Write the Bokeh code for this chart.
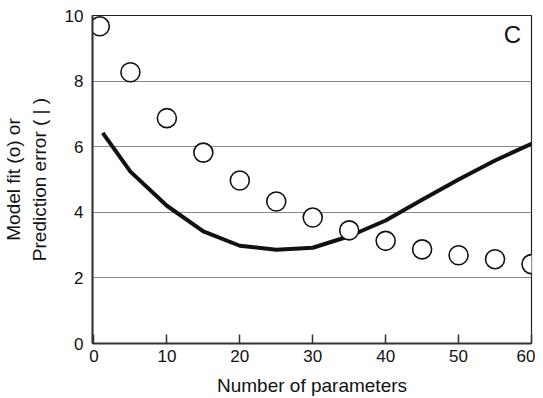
from bokeh.plotting import figure
from bokeh.models import Range1d, Label, FixedTicker
from bokeh.embed import file_html
from bokeh.resources import INLINE

# data
fit_x = [0.8, 5, 10, 15, 20, 25, 30, 35, 40, 45, 50, 55, 60]
fit_y = [9.67, 8.27, 6.87, 5.82, 4.97, 4.33, 3.84, 3.45, 3.13, 2.87, 2.69, 2.57, 2.42]
err_x = [1.2, 5, 10, 15, 20, 25, 30, 35, 40, 45, 50, 55, 60]
err_y = [6.42, 5.24, 4.2, 3.42, 2.98, 2.86, 2.92, 3.27, 3.75, 4.38, 5.0, 5.58, 6.09]
x_ticks = [0, 10, 20, 30, 40, 50, 60]
y_ticks = [0, 2, 4, 6, 8, 10]

FONT = "Liberation Sans"

p = figure(width=535, height=398, output_backend="svg", toolbar_location=None,
           x_range=Range1d(-0.2, 60), y_range=Range1d(0, 10),
           min_border_left=92, min_border_right=4, min_border_top=15, min_border_bottom=53)

p.line(err_x, err_y, line_color="#111111", line_width=4, line_join="round")
p.scatter(fit_x, fit_y, size=19, marker="circle", fill_color="white",
          line_color="#111111", line_width=1.6)

p.outline_line_color = "#222222"
p.outline_line_width = 1.2
p.xgrid.grid_line_color = None
p.ygrid.ticker = FixedTicker(ticks=[2, 4, 6, 8])
p.ygrid.grid_line_color = "#888888"
p.ygrid.grid_line_width = 1

p.xaxis.ticker = FixedTicker(ticks=x_ticks)
p.yaxis.ticker = FixedTicker(ticks=y_ticks)
for ax in (p.xaxis[0], p.yaxis[0]):
    ax.axis_line_color = "#333333"
    ax.axis_line_width = 2
    ax.minor_tick_line_color = None
    ax.major_label_text_font = FONT
    ax.major_label_text_font_size = "17px"
    ax.major_label_text_color = "#111111"
    ax.axis_label_text_font = FONT
    ax.axis_label_text_font_size = "19px"
    ax.axis_label_text_font_style = "normal"
    ax.axis_label_text_color = "#111111"

p.xaxis.major_tick_in = 9
p.xaxis.major_tick_out = 0
p.xaxis.major_tick_line_color = "#333333"
p.xaxis.major_tick_line_width = 1.5
p.xaxis.major_label_standoff = 6
p.xaxis.axis_label = "Number of parameters"
p.xaxis.axis_label_standoff = 10

p.yaxis.major_tick_line_color = None
p.yaxis.major_tick_in = 0
p.yaxis.major_tick_out = 0
p.yaxis.major_label_standoff = 9
p.yaxis.axis_label = "Model fit (o) or\nPrediction error ( | )"
p.yaxis.axis_label_standoff = 12

p.add_layout(Label(x=57.4, y=9.42, text="C", text_font=FONT, text_font_size="24px",
                   text_color="#111111", text_align="center", text_baseline="middle"))

open("out.html", "w").write(file_html(p, INLINE))
